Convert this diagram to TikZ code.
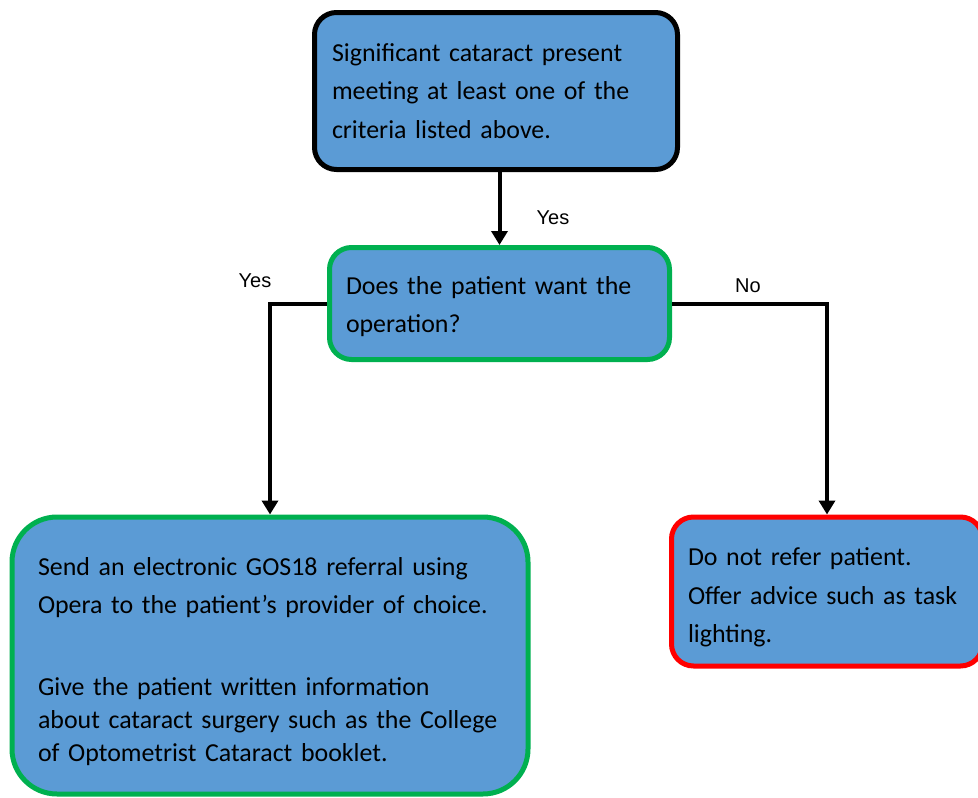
\documentclass[tikz,border=0pt]{standalone}
\usepackage{fontspec}
\setmainfont{Carlito}
\newfontfamily\labelfont{Liberation Sans}
\usetikzlibrary{arrows.meta}

\definecolor{boxblue}{HTML}{5B9BD5}
\definecolor{okgreen}{HTML}{00B050}
\definecolor{nored}{HTML}{FF0000}

\newcommand{\flowfont}{\fontsize{25.9}{38.5}\selectfont\hyphenpenalty=10000\relax}
\newcommand{\topgap}[1]{\rule{0pt}{#1}}

\tikzset{
    flowbox/.style={rectangle, fill=boxblue, line width=5pt, rounded corners=22pt,
        inner sep=0pt, align=left, font=\flowfont},
    answer/.style={font=\labelfont\fontsize{20}{23}\selectfont, inner sep=0pt},
    flowline/.style={line width=4pt, -{Triangle[length=14pt,width=16pt]}}
}

\begin{document}
\begin{tikzpicture}[x=1pt, y=-1pt]
    \useasboundingbox (0,0) rectangle (978,798);

    \node[flowbox, draw=black, minimum width=363pt, minimum height=157pt, text width=328pt] (cataract) at (496,91)
        {Significant cataract present\\meeting at least one of the\\criteria listed above.};
    \node[flowbox, draw=okgreen, minimum width=340pt, minimum height=112pt, text width=307pt] (wants) at (499.5,303.5)
        {\topgap{24.5pt}Does the patient want the\\operation?};
    \node[flowbox, draw=okgreen, rounded corners=45pt, minimum width=516pt, minimum height=277pt, text width=464pt] (refer) at (270,655.5)
        {\topgap{30pt}Send an electronic GOS18 referral using\\Opera to the patient’s provider of choice.\\[49pt]
        \fontsize{25.9}{33}\selectfont Give the patient written information\\about cataract surgery such as the College\\[-5.5pt]of Optometrist Cataract booklet.};
    \node[flowbox, draw=nored, minimum width=311pt, minimum height=149pt, text width=278pt] (norefer) at (827,591.5)
        {\topgap{29.5pt}Do not refer patient.\\Offer advice such as task\\lighting.};

    \draw[flowline] (cataract.south -| wants.north) -- (wants.north);
    \draw[flowline] (wants.west) -| (refer.north);
    \draw[flowline] (wants.east) -| (norefer.north);

    \node[answer] (yes1) at (553,218) {Yes};
    \node[answer] (yes2) at (255,281) {Yes};
    \node[answer] (no1) at (748,286) {No};
\end{tikzpicture}
\end{document}
